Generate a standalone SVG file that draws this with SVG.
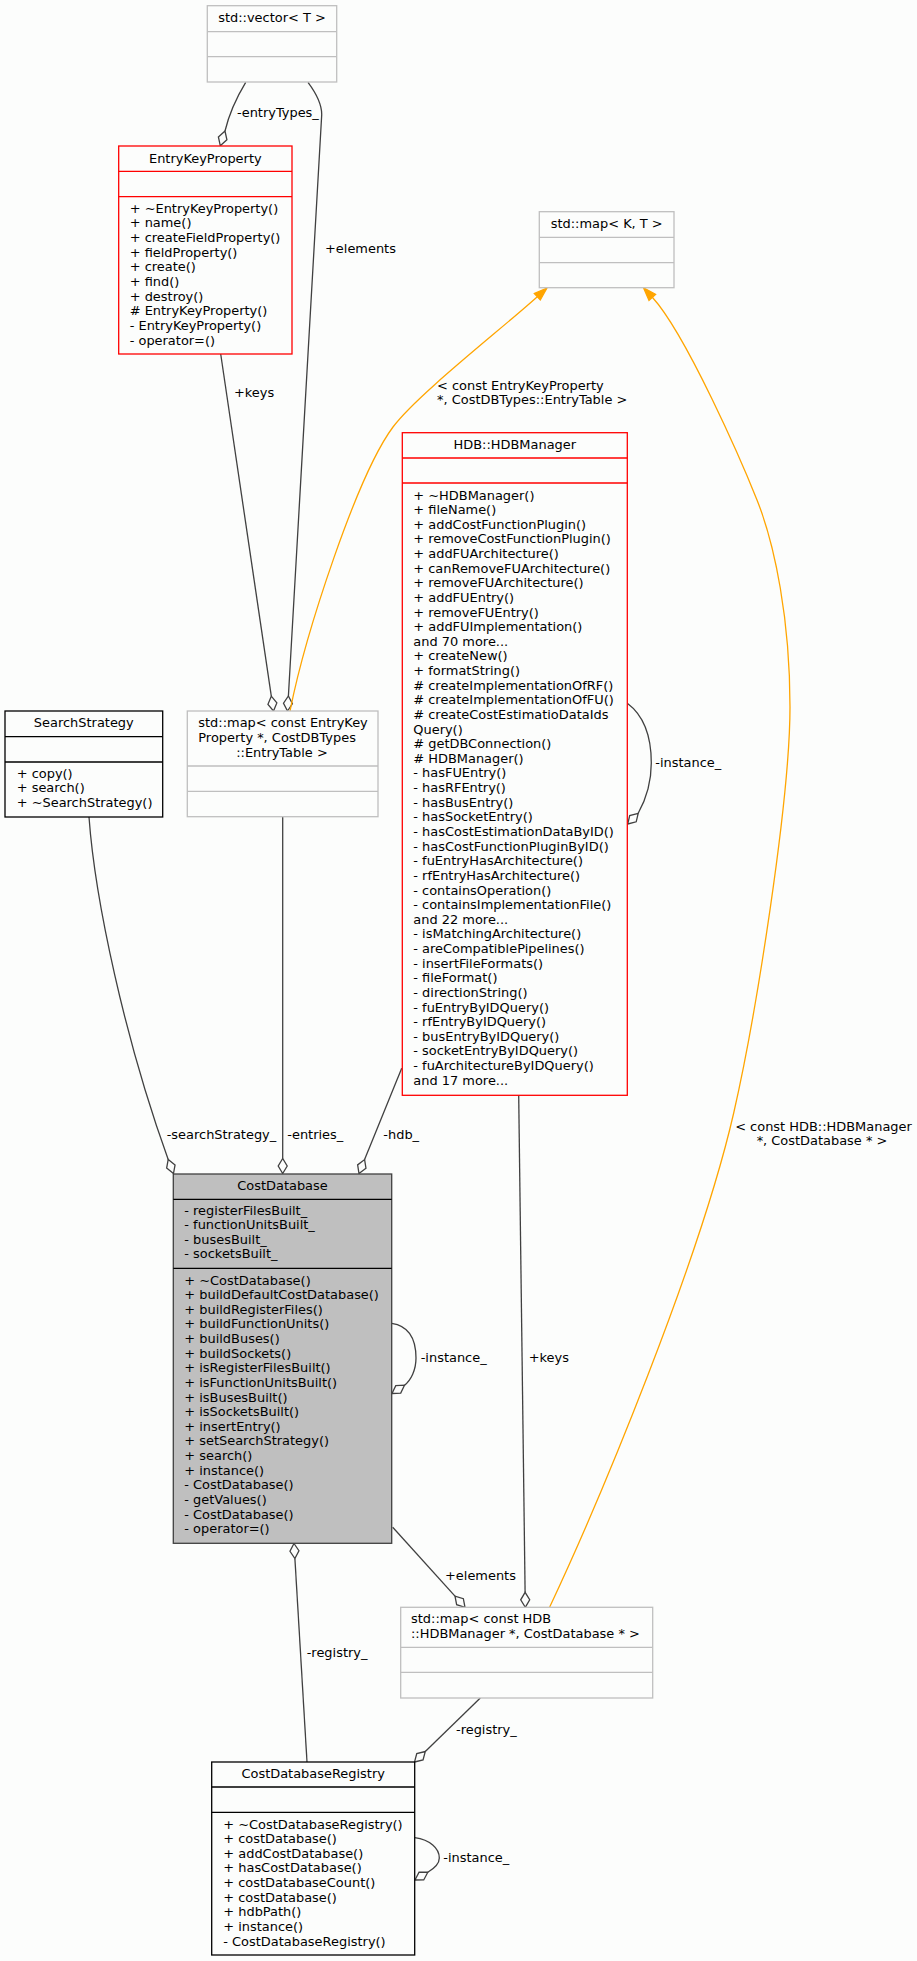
<svg xmlns="http://www.w3.org/2000/svg" width="917" height="1961" viewBox="0 0 917 1961">
<style>
text{font-family:"DejaVu Sans","Liberation Sans",sans-serif;font-size:12.95px;fill:#000}
.c{text-anchor:middle}
.box{fill:#fcfdfc;stroke-width:1.3}
.gray{stroke:#bfbfbf}
.red{stroke:#ff0000}
.blk{stroke:#000}
.cur{fill:#bfbfbf;stroke:#404040;stroke-width:1.3}
.e{fill:none;stroke:#404040;stroke-width:1.3}
.o{fill:none;stroke:#ffa500;stroke-width:1.3}
.d{fill:#fcfdfc;stroke:#404040;stroke-width:1.3}
.ah{fill:#ffa500;stroke:#ffa500;stroke-width:1.3}
</style>
<rect x="0" y="0" width="917" height="1961" fill="#fcfdfc"/>
<g id="connectors">
<path class="e" d="M245.7,82.3 C238,95 230,110 225,131"/>
<polygon class="d" points="220.3,145.8 226.9,139.8 225,131 218.4,137"/>
<text x="237" y="117">-entryTypes_</text>
<path class="e" d="M308,82.3 C316,93 322,104 321.7,115 L288.4,696"/>
<polygon class="d" points="287.5,711 292.4,703.8 288.4,696 283.5,703.2"/>
<text x="325" y="252.5">+elements</text>
<path class="e" d="M220.7,354 L271.3,696.2"/>
<polygon class="d" points="273.5,711 276.85,702.9 271.3,696.2 267.95,704.3"/>
<text x="234" y="397">+keys</text>
<path class="o" d="M290,711 C305.7,632.6 357.2,475.1 393,427 C416.9,394.9 500.1,330.2 537.3,296.7"/>
<polygon class="ah" points="547,288 540.3,300 534.3,293.4"/>
<text x="437" y="389.5">&lt; const EntryKeyProperty</text>
<text x="437" y="404">*, CostDBTypes::EntryTable &gt;</text>
<path class="o" d="M549.7,1607 C600,1500 700,1260 733.7,1113 C756,1015.5 790,800 790,707 C790,620 775,545 757,500 C742.2,462.9 686.1,334.2 652.3,297.3"/>
<polygon class="ah" points="643.5,287.7 655.6,294.3 649,300.3"/>
<text class="c" x="823.5" y="1131">&lt; const HDB::HDBManager</text>
<text class="c" x="822" y="1145">*, CostDatabase * &gt;</text>
<path class="e" d="M627.3,703.3 C643,715 651.3,735 651.3,763 C651.3,785 645,801 638.2,813.3"/>
<polygon class="d" points="627.7,824 636.2,821.8 638.2,813.3 629.7,815.5"/>
<text x="655.3" y="767">-instance_</text>
<path class="e" d="M89,817 C95,900 125,1040 168.2,1159.5"/>
<polygon class="d" points="173.5,1173.5 175.05,1164.9 168.2,1159.5 166.65,1168.1"/>
<text x="166.7" y="1138.5">-searchStrategy_</text>
<path class="e" d="M282.7,817 L282.7,1158.5"/>
<polygon class="d" points="282.7,1173.5 287.2,1166 282.7,1158.5 278.2,1166"/>
<text x="287.3" y="1138.5">-entries_</text>
<path class="e" d="M401.7,1068.3 L364.6,1159.6"/>
<polygon class="d" points="359,1173.5 365.97,1168.24 364.6,1159.6 357.63,1164.86"/>
<text x="383.3" y="1138.5">-hdb_</text>
<path class="e" d="M391.7,1323.3 C410,1326 416,1340 416,1358 C416,1370 411,1380 404.5,1385.2"/>
<polygon class="d" points="392,1393.5 400.74,1393.1 404.5,1385.2 395.76,1385.6"/>
<text x="420.7" y="1362">-instance_</text>
<path class="e" d="M518.7,1095.3 L525.1,1592.3"/>
<polygon class="d" points="525.3,1607.3 529.7,1599.74 525.1,1592.3 520.7,1599.86"/>
<text x="528.7" y="1362">+keys</text>
<path class="e" d="M392.7,1527.3 L455,1596.1"/>
<polygon class="d" points="465,1607.3 463.35,1598.7 455,1596.1 456.65,1604.7"/>
<text x="445" y="1579.5">+elements</text>
<path class="e" d="M294.9,1558.5 L307,1762"/>
<polygon class="d" points="294,1543.5 298.94,1550.73 294.9,1558.5 289.96,1551.27"/>
<text x="306.7" y="1656.5">-registry_</text>
<path class="e" d="M480.3,1698 L425.3,1751.5"/>
<polygon class="d" points="414.5,1762 423.04,1759.98 425.3,1751.5 416.76,1753.52"/>
<text x="456" y="1733.5">-registry_</text>
<path class="e" d="M414.7,1837.7 C430,1840 439.3,1848 439.3,1858 C439.3,1864 435,1868 427.8,1872.2"/>
<polygon class="d" points="415,1880 423.74,1879.95 427.8,1872.2 419.06,1872.25"/>
<text x="443.3" y="1862">-instance_</text>
</g>
<g id="vector">
<rect class="box gray" x="207.3" y="5.7" width="129.4" height="76.3"/>
<path class="e" style="stroke:#bfbfbf" d="M207.3,31.7 H336.7 M207.3,56.7 H336.7"/>
<text class="c" x="272" y="22">std::vector&lt; T &gt;</text>
</g>
<g id="EntryKeyProperty">
<rect class="box red" x="118.7" y="146" width="173.3" height="208"/>
<path class="e" style="stroke:#ff0000" d="M118.7,171.3 H292 M118.7,196.7 H292"/>
<text class="c" x="205.3" y="162.5">EntryKeyProperty</text>
<text x="129.7" y="212.8">+ ~EntryKeyProperty()</text>
<text x="129.7" y="227.45">+ name()</text>
<text x="129.7" y="242.1">+ createFieldProperty()</text>
<text x="129.7" y="256.75">+ fieldProperty()</text>
<text x="129.7" y="271.4">+ create()</text>
<text x="129.7" y="286.05">+ find()</text>
<text x="129.7" y="300.7">+ destroy()</text>
<text x="129.7" y="315.35"># EntryKeyProperty()</text>
<text x="129.7" y="330">- EntryKeyProperty()</text>
<text x="129.7" y="344.65">- operator=()</text>
</g>
<g id="mapKT">
<rect class="box gray" x="539.3" y="211.7" width="134.7" height="76"/>
<path class="e" style="stroke:#bfbfbf" d="M539.3,237.3 H674 M539.3,262.7 H674"/>
<text class="c" x="606.7" y="227.8">std::map&lt; K, T &gt;</text>
</g>
<g id="HDBManager">
<rect class="box red" x="402.3" y="432.7" width="225" height="662.6"/>
<path class="e" style="stroke:#ff0000" d="M402.3,458 H627.3 M402.3,483 H627.3"/>
<text class="c" x="514.8" y="449">HDB::HDBManager</text>
<text x="413.3" y="499.5">+ ~HDBManager()</text>
<text x="413.3" y="514.13">+ fileName()</text>
<text x="413.3" y="528.76">+ addCostFunctionPlugin()</text>
<text x="413.3" y="543.39">+ removeCostFunctionPlugin()</text>
<text x="413.3" y="558.02">+ addFUArchitecture()</text>
<text x="413.3" y="572.65">+ canRemoveFUArchitecture()</text>
<text x="413.3" y="587.28">+ removeFUArchitecture()</text>
<text x="413.3" y="601.91">+ addFUEntry()</text>
<text x="413.3" y="616.54">+ removeFUEntry()</text>
<text x="413.3" y="631.17">+ addFUImplementation()</text>
<text x="413.3" y="645.8">and 70 more...</text>
<text x="413.3" y="660.43">+ createNew()</text>
<text x="413.3" y="675.06">+ formatString()</text>
<text x="413.3" y="689.69"># createImplementationOfRF()</text>
<text x="413.3" y="704.32"># createImplementationOfFU()</text>
<text x="413.3" y="718.95"># createCostEstimatioDataIds</text>
<text x="413.3" y="733.58">Query()</text>
<text x="413.3" y="748.21"># getDBConnection()</text>
<text x="413.3" y="762.84"># HDBManager()</text>
<text x="413.3" y="777.47">- hasFUEntry()</text>
<text x="413.3" y="792.1">- hasRFEntry()</text>
<text x="413.3" y="806.73">- hasBusEntry()</text>
<text x="413.3" y="821.36">- hasSocketEntry()</text>
<text x="413.3" y="835.99">- hasCostEstimationDataByID()</text>
<text x="413.3" y="850.62">- hasCostFunctionPluginByID()</text>
<text x="413.3" y="865.25">- fuEntryHasArchitecture()</text>
<text x="413.3" y="879.88">- rfEntryHasArchitecture()</text>
<text x="413.3" y="894.51">- containsOperation()</text>
<text x="413.3" y="909.14">- containsImplementationFile()</text>
<text x="413.3" y="923.77">and 22 more...</text>
<text x="413.3" y="938.4">- isMatchingArchitecture()</text>
<text x="413.3" y="953.03">- areCompatiblePipelines()</text>
<text x="413.3" y="967.66">- insertFileFormats()</text>
<text x="413.3" y="982.29">- fileFormat()</text>
<text x="413.3" y="996.92">- directionString()</text>
<text x="413.3" y="1011.55">- fuEntryByIDQuery()</text>
<text x="413.3" y="1026.18">- rfEntryByIDQuery()</text>
<text x="413.3" y="1040.81">- busEntryByIDQuery()</text>
<text x="413.3" y="1055.44">- socketEntryByIDQuery()</text>
<text x="413.3" y="1070.07">- fuArchitectureByIDQuery()</text>
<text x="413.3" y="1084.7">and 17 more...</text>
</g>
<g id="SearchStrategy">
<rect class="box blk" x="5" y="711" width="157.7" height="106"/>
<path class="e" style="stroke:#000" d="M5,736.7 H162.7 M5,762 H162.7"/>
<text class="c" x="83.8" y="726.8">SearchStrategy</text>
<text x="16.7" y="777.8">+ copy()</text>
<text x="16.7" y="792.4">+ search()</text>
<text x="16.7" y="807">+ ~SearchStrategy()</text>
</g>
<g id="mapEntryKey">
<rect class="box gray" x="187.3" y="711" width="190.7" height="105.7"/>
<path class="e" style="stroke:#bfbfbf" d="M187.3,766 H378 M187.3,791.3 H378"/>
<text x="198.3" y="726.8">std::map&lt; const EntryKey</text>
<text x="198.3" y="741.8">Property *, CostDBTypes</text>
<text class="c" x="282" y="756.8">::EntryTable &gt;</text>
</g>
<g id="CostDatabase">
<rect class="cur" x="173.3" y="1174" width="218.4" height="369.3"/>
<path class="e" style="stroke:#000" d="M173.3,1199.3 H391.7 M173.3,1268.3 H391.7"/>
<text class="c" x="282.5" y="1190">CostDatabase</text>
<text x="184.3" y="1214.5">- registerFilesBuilt_</text>
<text x="184.3" y="1229.1">- functionUnitsBuilt_</text>
<text x="184.3" y="1243.7">- busesBuilt_</text>
<text x="184.3" y="1258.3">- socketsBuilt_</text>
<text x="184.3" y="1284.5">+ ~CostDatabase()</text>
<text x="184.3" y="1299.13">+ buildDefaultCostDatabase()</text>
<text x="184.3" y="1313.76">+ buildRegisterFiles()</text>
<text x="184.3" y="1328.39">+ buildFunctionUnits()</text>
<text x="184.3" y="1343.02">+ buildBuses()</text>
<text x="184.3" y="1357.65">+ buildSockets()</text>
<text x="184.3" y="1372.28">+ isRegisterFilesBuilt()</text>
<text x="184.3" y="1386.91">+ isFunctionUnitsBuilt()</text>
<text x="184.3" y="1401.54">+ isBusesBuilt()</text>
<text x="184.3" y="1416.17">+ isSocketsBuilt()</text>
<text x="184.3" y="1430.8">+ insertEntry()</text>
<text x="184.3" y="1445.43">+ setSearchStrategy()</text>
<text x="184.3" y="1460.06">+ search()</text>
<text x="184.3" y="1474.69">+ instance()</text>
<text x="184.3" y="1489.32">- CostDatabase()</text>
<text x="184.3" y="1503.95">- getValues()</text>
<text x="184.3" y="1518.58">- CostDatabase()</text>
<text x="184.3" y="1533.21">- operator=()</text>
</g>
<g id="mapHDB">
<rect class="box gray" x="400.7" y="1607.3" width="252" height="90.7"/>
<path class="e" style="stroke:#bfbfbf" d="M400.7,1647.3 H652.7 M400.7,1672.3 H652.7"/>
<text x="411" y="1622.8">std::map&lt; const HDB</text>
<text x="411" y="1637.8">::HDBManager *, CostDatabase * &gt;</text>
</g>
<g id="CostDatabaseRegistry">
<rect class="box blk" x="211.7" y="1762" width="203" height="193"/>
<path class="e" style="stroke:#000" d="M211.7,1787 H414.7 M211.7,1812.3 H414.7"/>
<text class="c" x="313.2" y="1777.8">CostDatabaseRegistry</text>
<text x="223.3" y="1828.5">+ ~CostDatabaseRegistry()</text>
<text x="223.3" y="1843.13">+ costDatabase()</text>
<text x="223.3" y="1857.76">+ addCostDatabase()</text>
<text x="223.3" y="1872.39">+ hasCostDatabase()</text>
<text x="223.3" y="1887.02">+ costDatabaseCount()</text>
<text x="223.3" y="1901.65">+ costDatabase()</text>
<text x="223.3" y="1916.28">+ hdbPath()</text>
<text x="223.3" y="1930.91">+ instance()</text>
<text x="223.3" y="1945.54">- CostDatabaseRegistry()</text>
</g>
</svg>
